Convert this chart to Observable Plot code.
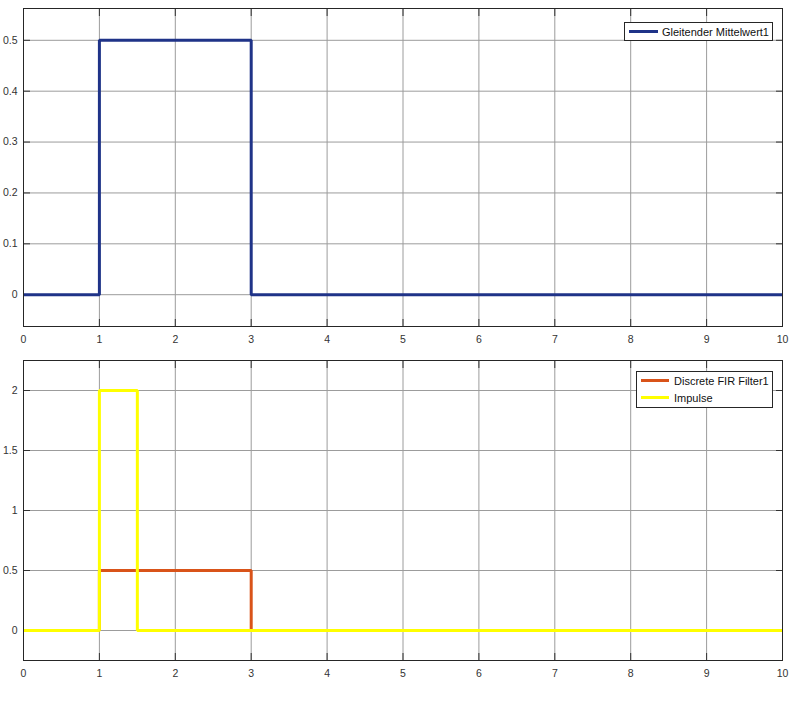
<!DOCTYPE html>
<html><head><meta charset="utf-8">
<script src="https://cdn.jsdelivr.net/npm/d3@7"></script>
<script src="https://cdn.jsdelivr.net/npm/@observablehq/plot@0.6"></script>
<style>
body{margin:0;background:#fff;font-family:"Liberation Sans",Arial,sans-serif;}
#wrap{position:relative;width:798px;height:703px;}
#wrap svg{display:block;}
.legend{position:absolute;box-sizing:border-box;border:1px solid #262626;background:#fff;font-size:11px;color:#111;padding-top:0px;}
.row{display:flex;align-items:center;height:17px;white-space:nowrap;}
.swatch{height:3px;}
</style></head><body><div id="wrap"></div>
<script>
// ticks
const xTicks = [0, 1, 2, 3, 4, 5, 6, 7, 8, 9, 10];
const topYTicks = [0, 0.1, 0.2, 0.3, 0.4, 0.5];
const botYTicks = [0, 0.5, 1, 1.5, 2];
// series (step-after)
const mittelX = [0, 1, 3, 10];
const mittelY = [0, 0.5, 0, 0];
const firX = [0, 1, 3, 10];
const firY = [0, 0.5, 0, 0];
const impulseX = [0, 1, 1.5, 10];
const impulseY = [0, 2, 0, 0];
// legend labels
const topLegend = ["Gleitender Mittelwert1"];
const botLegend = ["Discrete FIR Filter1", "Impulse"];
const colors = {mittel: "#1f3388", fir: "#d95319", impulse: "#ffff00"};

const toData = (xs, ys) => xs.map((x, i) => ({x, y: ys[i]}));
const gridColor = "#9c9c9c";
const ink = "#262626";

function grids(yTicks) {
  return [
    Plot.gridX(xTicks, {stroke: gridColor, strokeOpacity: 1}),
    Plot.gridY(yTicks, {stroke: gridColor, strokeOpacity: 1}),
  ];
}
function axisMarks(yTicks) {
  return [
    Plot.axisX(xTicks, {anchor: "bottom", tickSize: 7, dy: -7, tickPadding: 9, tickFormat: d => String(d), label: null}),
    Plot.axisX(xTicks, {anchor: "top", tickSize: 7, dy: 7, tickFormat: () => "", label: null}),
    Plot.axisY(yTicks, {anchor: "left", tickSize: 7, dx: 7, tickPadding: 6, tickFormat: d => String(d), label: null}),
    Plot.axisY(yTicks, {anchor: "right", tickSize: 7, dx: -7, tickFormat: () => "", label: null})
  ];
}
const style = {fontFamily: "'Liberation Sans', Arial, sans-serif", fontSize: "10.5px", color: "#333", background: "#fff"};
const lineOpts = {x: "x", y: "y", curve: "step-after", strokeWidth: 3, strokeLinejoin: "miter", strokeLinecap: "butt"};

const chartTop = Plot.plot({
  width: 798, height: 350,
  marginLeft: 23, marginRight: 16, marginTop: 8, marginBottom: 24,
  style,
  x: {domain: [0, 10], label: null},
  y: {domain: [-0.0625, 0.5625], label: null},
  marks: [
    ...grids(topYTicks),
    ...axisMarks(topYTicks),
    Plot.line(toData(mittelX, mittelY), {...lineOpts, stroke: colors.mittel}),
    Plot.frame({stroke: ink})
  ]
});
const chartBot = Plot.plot({
  width: 798, height: 353,
  marginLeft: 23, marginRight: 16, marginTop: 10, marginBottom: 43,
  style,
  x: {domain: [0, 10], label: null},
  y: {domain: [-0.25, 2.25], label: null},
  marks: [
    ...grids(botYTicks),
    ...axisMarks(botYTicks),
    Plot.line(toData(firX, firY), {...lineOpts, stroke: colors.fir}),
    Plot.line(toData(impulseX, impulseY), {...lineOpts, stroke: colors.impulse}),
    Plot.frame({stroke: ink})
  ]
});
const wrap = document.getElementById("wrap");
wrap.appendChild(chartTop);
wrap.appendChild(chartBot);

function legend(labels, cols, left, topPx, width, height, swLeft, swWidth, gap) {
  const box = document.createElement("div");
  box.className = "legend";
  Object.assign(box.style, {left: left + "px", top: topPx + "px", width: width + "px", height: height + "px"});
  labels.forEach((lab, i) => {
    const row = document.createElement("div");
    row.className = "row";
    const sw = document.createElement("div");
    sw.className = "swatch";
    Object.assign(sw.style, {background: cols[i], width: swWidth + "px", marginLeft: swLeft + "px", marginRight: gap + "px"});
    const t = document.createElement("span");
    t.textContent = lab;
    row.appendChild(sw); row.appendChild(t);
    box.appendChild(row);
  });
  wrap.appendChild(box);
}
legend(topLegend, [colors.mittel], 624, 22, 149, 19, 4, 29, 4);
legend(botLegend, [colors.fir, colors.impulse], 636, 371, 137, 37, 4, 28, 5);
</script></body></html>
